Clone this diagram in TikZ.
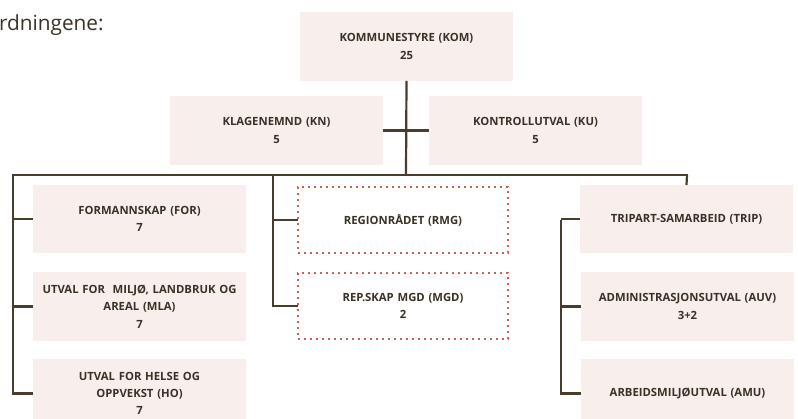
\documentclass[tikz,border=0pt]{standalone}
\usepackage{fontspec}
\setmainfont{Open Sans}
\begin{document}
\begin{tikzpicture}[x=1pt,y=-1pt,
  every node/.style={inner sep=0pt, outer sep=0pt},
  linecol/.style={draw=lc, line width=2.2pt},
  fillbox/.style={fill=bf, minimum width=213pt, minimum height=69pt, text width=210pt, align=center, font=\fontsize{11.3}{17.3}\selectfont\bfseries, text=tc},
  dotbox/.style={fill=white, draw=dc, line width=1.6pt, dash pattern=on 1.6pt off 4.4pt, minimum width=210pt, minimum height=66pt, text width=205pt, align=center, font=\fontsize{11.3}{17.3}\selectfont\bfseries, text=tc},
]
\definecolor{lc}{RGB}{72,61,42}
\definecolor{bf}{RGB}{248,239,236}
\definecolor{tc}{RGB}{58,50,38}
\definecolor{dc}{RGB}{205,95,85}
\useasboundingbox (0,0) rectangle (798,419);
\clip (0,0) rectangle (798,419);

\node[anchor=base west, font=\fontsize{20.8}{24}\selectfont, text=tc] (intro) at (-1,31) {rdningene:};

\coordinate (busC) at (406,175);
\coordinate (busL) at (13,175);
\coordinate (busM) at (273,175);
\coordinate (busR) at (687,175);
\coordinate (brR) at (561,220);

\node[fillbox] (kom) at (406.5,46.5) {KOMMUNESTYRE (KOM)\\25};
\node[fillbox] (kn) at (276.5,130.5) {KLAGENEMND (KN)\\5};
\node[fillbox] (ku) at (535.5,130.5) {KONTROLLUTVAL (KU)\\5};

\node[fillbox, minimum height=68pt] (for) at (139.5,219) {FORMANNSKAP (FOR)\\7};
\node[fillbox] (mla) at (139.5,306.5) {UTVAL FOR\ \ MILJØ, LANDBRUK OG\\AREAL (MLA)\\7};
\node[fillbox] (ho) at (139.5,393.5) {UTVAL FOR HELSE OG\\OPPVEKST (HO)\\7};

\node[fillbox, minimum height=68pt] (trip) at (686.5,219) {TRIPART-SAMARBEID (TRIP)};
\node[fillbox] (auv) at (687.5,306.5) {ADMINISTRASJONSUTVAL (AUV)\\3+2};
\node[fillbox] (amu) at (687.5,393.5) {ARBEIDSMILJØUTVAL (AMU)};

\draw[linecol] (kom.south) -- (busC);
\draw[linecol] (kn.east) -- (ku.west);
\draw[linecol, line cap=rect] (busL) -- (busR);
\draw[linecol] (busL) |- (ho.west);
\draw[linecol] (busL |- for.west) -- (for.west);
\draw[linecol] (busL |- mla.west) -- (mla.west);
\draw[linecol] (busR) -- (trip.north);
\draw[linecol] (trip.west -| brR) -- (trip.west);
\draw[linecol] (brR) |- (amu.west);
\draw[linecol] (brR |- auv.west) -- (auv.west);

\node[dotbox] (rmg) at (403,220) {REGIONRÅDET (RMG)};
\node[dotbox] (mgd) at (403,306) {REP.SKAP MGD (MGD)\\2};
\draw[linecol] (busM) |- (mgd.west);
\draw[linecol] (busM |- rmg.west) -- (rmg.west);
\end{tikzpicture}
\end{document}
